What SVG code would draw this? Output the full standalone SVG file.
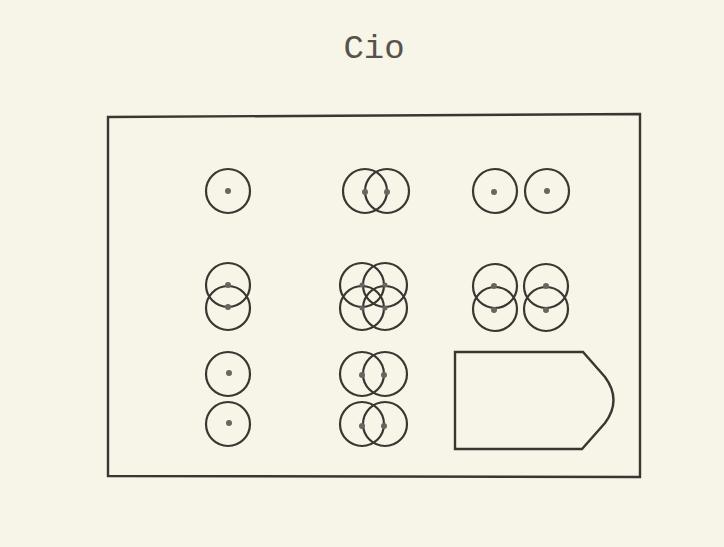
<svg xmlns="http://www.w3.org/2000/svg" width="724" height="547" viewBox="0 0 724 547">
<style>
.c{fill:none;stroke:#3a3632;stroke-width:2.2}
.d{fill:#6a6560}
.f{fill:none;stroke:#3a3632;stroke-width:2.4}
.t{font-family:"Liberation Mono","DejaVu Sans Mono",monospace;font-size:34px;fill:#57524b}
</style>
<rect width="724" height="547" fill="#f7f4e8"/>
<text class="t" x="374" y="58" text-anchor="middle">Cio</text>
<path id="frame" class="f" d="M108,117 L640,114 L640,477 L108,476 Z"/>
<g id="n1"><circle class="c" cx="228" cy="191" r="22"/><circle class="d" cx="228" cy="191" r="3"/></g>
<g id="n2"><circle class="c" cx="365" cy="191" r="22"/><circle class="c" cx="387" cy="191" r="22"/><circle class="d" cx="365" cy="192" r="3"/><circle class="d" cx="387" cy="192" r="3"/></g>
<g id="n3"><circle class="c" cx="495" cy="191" r="22"/><circle class="c" cx="547" cy="191" r="22"/><circle class="d" cx="494" cy="192" r="3"/><circle class="d" cx="547" cy="191" r="3"/></g>
<g id="n4"><circle class="c" cx="228" cy="285" r="22"/><circle class="c" cx="228" cy="308" r="22"/><circle class="d" cx="228" cy="285" r="3"/><circle class="d" cx="228" cy="307" r="3"/></g>
<g id="n5"><circle class="c" cx="362" cy="285" r="22"/><circle class="c" cx="385" cy="285" r="22"/><circle class="c" cx="362" cy="308" r="22"/><circle class="c" cx="385" cy="308" r="22"/><circle class="d" cx="362" cy="285" r="2.5"/><circle class="d" cx="385" cy="285" r="2.5"/><circle class="d" cx="362" cy="308" r="2.5"/><circle class="d" cx="385" cy="308" r="2.5"/></g>
<g id="n6"><circle class="c" cx="495" cy="286" r="22"/><circle class="c" cx="495" cy="309" r="22"/><circle class="c" cx="546" cy="286" r="22"/><circle class="c" cx="546" cy="309" r="22"/><circle class="d" cx="494" cy="286" r="3"/><circle class="d" cx="494" cy="310" r="3"/><circle class="d" cx="546" cy="286" r="3"/><circle class="d" cx="546" cy="310" r="3"/></g>
<g id="n7"><circle class="c" cx="228" cy="374" r="22"/><circle class="c" cx="228" cy="424" r="22"/><circle class="d" cx="229" cy="373" r="3"/><circle class="d" cx="229" cy="423" r="3"/></g>
<g id="n8"><circle class="c" cx="362" cy="374" r="22"/><circle class="c" cx="385" cy="374" r="22"/><circle class="c" cx="362" cy="424" r="22"/><circle class="c" cx="385" cy="424" r="22"/><circle class="d" cx="362" cy="375" r="3"/><circle class="d" cx="384" cy="375" r="3"/><circle class="d" cx="362" cy="426" r="3"/><circle class="d" cx="384" cy="426" r="3"/></g>
<g id="n9"><path class="f" d="M455,352 H583 L605,377 Q622,400 605,423 L582,449 H455 Z"/></g>
<g id="connectors"></g>
</svg>
